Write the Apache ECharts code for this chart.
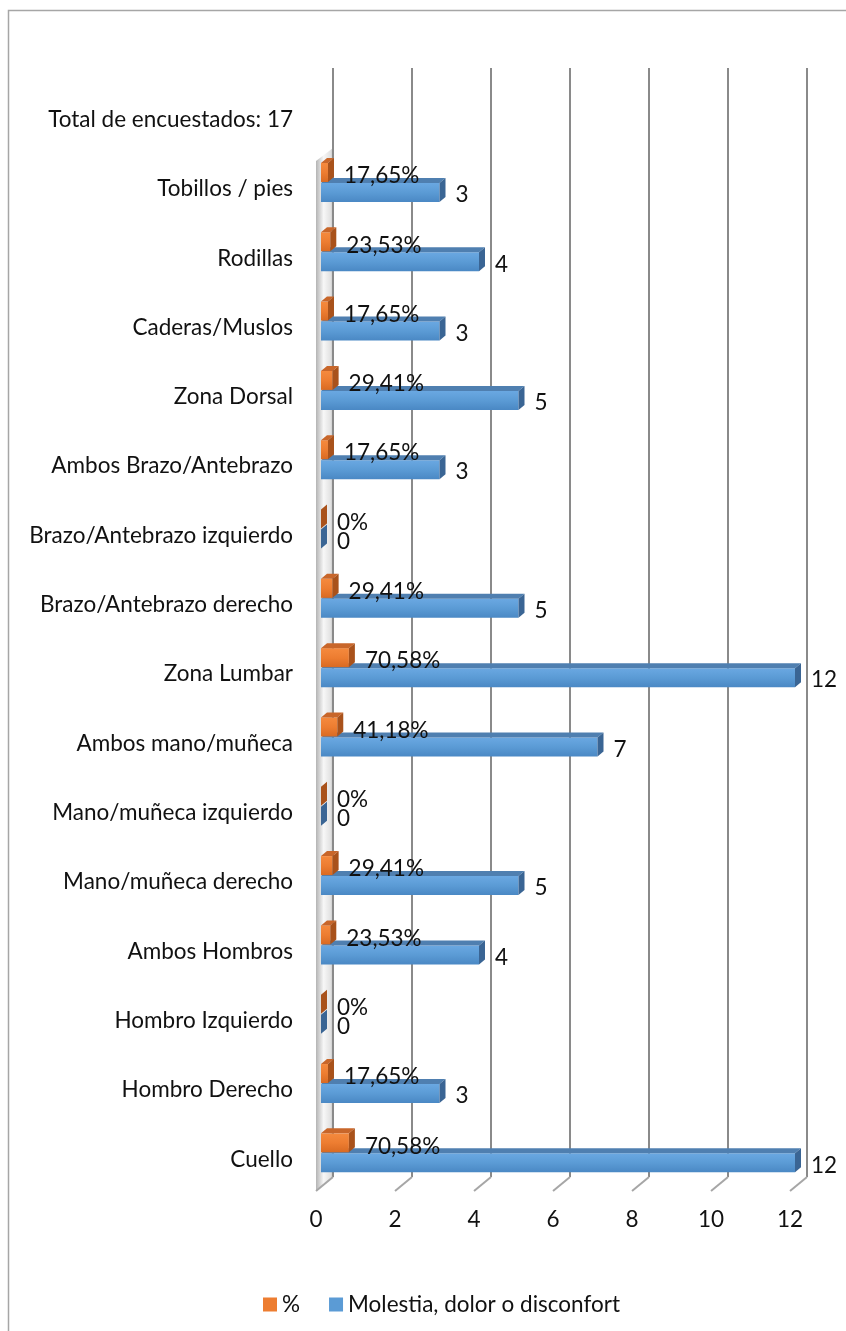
<!DOCTYPE html>
<html>
<head>
<meta charset="utf-8">
<script src="https://cdn.jsdelivr.net/npm/echarts@6/dist/echarts.min.js"></script>
<style>
  html, body { margin: 0; padding: 0; background: #fff; }
  #grafico { width: 846px; height: 1331px; }
</style>
</head>
<body>
<div id="grafico"></div>
<script>
// categorias de abajo hacia arriba (como en Excel)
var categorias = [
    'Cuello', 'Hombro Derecho', 'Hombro Izquierdo', 'Ambos Hombros',
    'Mano/muñeca derecho', 'Mano/muñeca izquierdo', 'Ambos mano/muñeca',
    'Zona Lumbar', 'Brazo/Antebrazo derecho', 'Brazo/Antebrazo izquierdo',
    'Ambos Brazo/Antebrazo', 'Zona Dorsal', 'Caderas/Muslos', 'Rodillas',
    'Tobillos / pies', 'Total de encuestados: 17'
];
var molestia = [12, 3, 0, 4, 5, 0, 7, 12, 5, 0, 3, 5, 3, 4, 3];
var porcentaje = [0.7058, 0.1765, 0, 0.2353, 0.2941, 0, 0.4118, 0.7058, 0.2941, 0, 0.1765, 0.2941, 0.1765, 0.2353, 0.1765];
var ticksX = [0, 2, 4, 6, 8, 10, 12];

var fuente = 'Lato';
var tam = 22.5;

function formatoPct(v) {
    if (v === 0) return '0%';
    return (v * 100).toFixed(2).replace('.', ',') + '%';
}

// caja 3D: cara frontal, superior y lateral
function caja(api, off0, off1, col, texto, offTexto) {
    var v = api.value(0), idx = api.value(1);
    var p0 = api.coord([0, idx]);
    var p1 = api.coord([v, idx]);
    var x0 = p0[0] + 5, x1 = p1[0] + 5, cy = p0[1];
    var y0 = cy + off0, y1 = cy + off1;
    var d = 6, dy = 5;
    return {
        type: 'group',
        children: [
            {
                type: 'rect',
                shape: { x: x0, y: y0, width: Math.max(x1 - x0, 0), height: y1 - y0 },
                style: { fill: new echarts.graphic.LinearGradient(0, 0, 0, 1, [
                    { offset: 0, color: col.f1 }, { offset: 0.5, color: col.f2 }, { offset: 1, color: col.f3 }
                ]) }
            },
            {
                type: 'polygon',
                shape: { points: [[x0, y0], [x0 + d, y0 - dy], [x1 + d, y0 - dy], [x1, y0]] },
                style: { fill: col.top }
            },
            {
                type: 'polygon',
                shape: { points: [[x1, y0], [x1 + d, y0 - dy], [x1 + d, y1 - dy], [x1, y1]] },
                style: { fill: col.side }
            },
            {
                type: 'text',
                x: x1 + 16, y: cy + offTexto,
                style: { text: texto(v), fill: '#111', font: tam + 'px ' + fuente, verticalAlign: 'middle', align: 'left' }
            }
        ]
    };
}

var azul = { f1: '#6aa8e2', f2: '#5b9bd5', f3: '#4a88c4', top: '#4f7fb0', side: '#3a6594' };
var naranja = { f1: '#f58a3e', f2: '#ed7d31', f3: '#d96a22', top: '#c8662a', side: '#a9521b' };

var datosMolestia = molestia.map(function (v, i) { return [v, i]; });
var datosPct = porcentaje.map(function (v, i) { return [v, i]; });
var datosTicks = ticksX.map(function (v) { return [v, 0]; });

var chart = echarts.init(document.getElementById('grafico'));
chart.setOption({
    backgroundColor: '#fff',
    animation: false,
    textStyle: { fontFamily: fuente },
    graphic: [{
        type: 'rect',
        shape: { x: 8.5, y: 10.5, width: 900, height: 1400 },
        style: { fill: 'none', stroke: '#a6a6a6', lineWidth: 1.5 },
        silent: true
    }],
    grid: { left: 316, right: 56, top: 85, bottom: 137 },
    legend: {
        data: ['%', 'Molestia, dolor o disconfort'],
        left: 258, top: 1288,
        icon: 'rect', itemWidth: 14, itemHeight: 14, itemGap: 29,
        textStyle: { fontSize: tam, color: '#111', fontFamily: fuente }
    },
    xAxis: {
        type: 'value', min: 0, max: 12, interval: 2,
        axisLine: { show: false }, axisTick: { show: false }, splitLine: { show: false },
        axisLabel: { margin: 14, fontSize: tam, color: '#111', fontFamily: fuente }
    },
    yAxis: {
        type: 'category', data: categorias,
        axisLine: { show: false }, axisTick: { show: false },
        axisLabel: { margin: 23, fontSize: tam, color: '#111', fontFamily: fuente }
    },
    series: [
        {
            name: 'fondo', type: 'custom', silent: true, z: 1,
            data: datosTicks,
            renderItem: function (params, api) {
                var cs = params.coordSys;
                var x = api.coord([api.value(0), 0])[0];
                var T = cs.y, B = cs.y + cs.height;
                var hijos = [
                    { type: 'line', shape: { x1: x + 17, y1: T - 17, x2: x + 17, y2: B - 17 }, style: { stroke: '#8a8a8a', lineWidth: 2 } },
                    { type: 'line', shape: { x1: x, y1: B - 3, x2: x + 17, y2: B - 17 }, style: { stroke: '#a6a6a6', lineWidth: 2 } }
                ];
                if (api.value(0) === 0) {
                    hijos.unshift({
                        type: 'polygon',
                        shape: { points: [[x, B - 3], [x + 17, B - 17], [x + 17, T + 63], [x, T + 76]] },
                        style: { fill: new echarts.graphic.LinearGradient(0, 0, 1, 0, [
                            { offset: 0, color: '#b4b4b4' }, { offset: 0.45, color: '#f7f7f7' },
                            { offset: 0.85, color: '#e2e2e2' }, { offset: 1, color: '#c4c4c4' }
                        ]) }
                    });
                }
                return { type: 'group', children: hijos };
            }
        },
        {
            name: 'Molestia, dolor o disconfort', type: 'custom', z: 2,
            itemStyle: { color: '#5b9bd5' },
            data: datosMolestia,
            renderItem: function (params, api) {
                return caja(api, -6, 13, azul, function (v) { return String(v); }, 6);
            }
        },
        {
            name: '%', type: 'custom', z: 3,
            itemStyle: { color: '#ed7d31' },
            data: datosPct,
            renderItem: function (params, api) {
                return caja(api, -26, -7, naranja, formatoPct, -13);
            }
        }
    ]
});
</script>
</body>
</html>
